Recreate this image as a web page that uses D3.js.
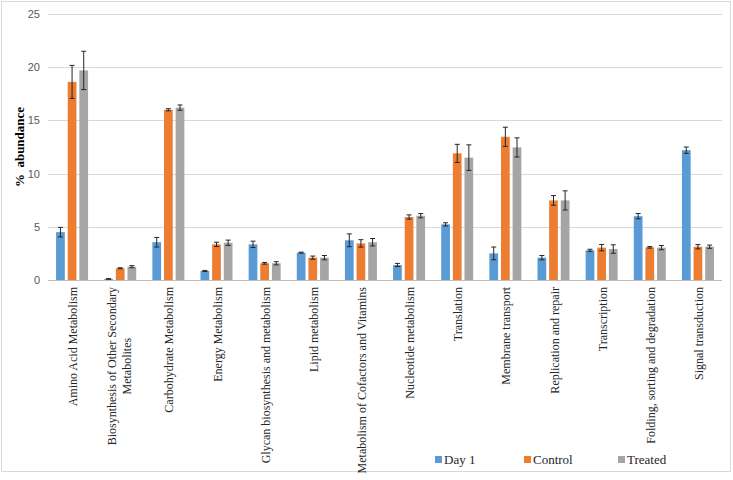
<!DOCTYPE html>
<html>
<head>
<meta charset="utf-8">
<script src="https://cdn.jsdelivr.net/npm/d3@7"></script>
<style>
  body { margin: 0; background: #fff; }
  svg { display: block; }
</style>
</head>
<body>
<svg id="chart" width="733" height="480"></svg>
<script>
// categories and series
const categories = [
  'Amino Acid Metabolism',
  'Biosynthesis of Other Secondary Metabolites',
  'Carbohydrate Metabolism',
  'Energy Metabolism',
  'Glycan biosynthesis and metabolism',
  'Lipid metabolism',
  'Metabolism of Cofactors and Vitamins',
  'Nucleotide metabolism',
  'Translation',
  'Membrane transport',
  'Replication and repair',
  'Transcription',
  'Folding, sorting and degradation',
  'Signal transduction'
];
const seriesNames = ['Day 1', 'Control', 'Treated'];

const day1 = [4.5, 0.1, 3.55, 0.85, 3.35, 2.57, 3.73, 1.41, 5.23, 2.5, 2.1, 2.79, 6.0, 12.2];
const day1Err = [0.45, 0.03, 0.45, 0.05, 0.3, 0.05, 0.6, 0.15, 0.15, 0.6, 0.2, 0.1, 0.25, 0.3];
const control = [18.62, 1.1, 16.0, 3.35, 1.57, 2.1, 3.44, 5.92, 11.9, 13.46, 7.48, 3.04, 3.07, 3.13];
const controlErr = [1.55, 0.05, 0.1, 0.2, 0.08, 0.15, 0.35, 0.2, 0.85, 0.9, 0.45, 0.3, 0.07, 0.2];
const treated = [19.7, 1.25, 16.2, 3.5, 1.57, 2.1, 3.55, 6.04, 11.5, 12.46, 7.48, 2.91, 3.04, 3.13];
const treatedErr = [1.8, 0.1, 0.25, 0.25, 0.15, 0.2, 0.35, 0.2, 1.2, 0.9, 0.9, 0.4, 0.2, 0.15];

const yTicks = [0, 5, 10, 15, 20, 25];
const colors = ['#5b9bd5', '#ed7d31', '#a5a5a5'];

const values = [day1, control, treated];
const errors = [day1Err, controlErr, treatedErr];

const width = 733;
const height = 480;
const margin = { top: 14, right: 11, bottom: 200, left: 48 };

const svg = d3.select('#chart');

// outer frame
svg.append('rect')
  .attr('x', 1.5).attr('y', 1.5)
  .attr('width', width - 4).attr('height', height - 10)
  .attr('fill', 'none')
  .attr('stroke', '#d9d9d9');

const x = d3.scaleBand()
  .domain(categories)
  .range([margin.left, width - margin.right]);

const xInner = d3.scaleBand()
  .domain(seriesNames)
  .range([0, 32])
  .paddingInner(0.25);

const y = d3.scaleLinear()
  .domain([0, 25])
  .range([height - margin.bottom, margin.top]);

// grid
svg.append('g')
  .selectAll('line')
  .data(yTicks.filter(d => d > 0))
  .join('line')
  .attr('x1', margin.left).attr('x2', width - margin.right)
  .attr('y1', d => Math.round(y(d)) + 0.5).attr('y2', d => Math.round(y(d)) + 0.5)
  .attr('stroke', '#d9d9d9');

// y tick labels
svg.append('g')
  .selectAll('text')
  .data(yTicks)
  .join('text')
  .attr('x', 40)
  .attr('y', d => y(d) + 4)
  .attr('text-anchor', 'end')
  .attr('font-family', 'Liberation Sans, Arial, sans-serif')
  .attr('font-size', 11)
  .attr('fill', '#595959')
  .text(d => d);

// y title
svg.append('text')
  .attr('transform', 'translate(24,147) rotate(-90)')
  .attr('text-anchor', 'middle')
  .attr('font-family', 'Liberation Serif, Times New Roman, serif')
  .attr('font-weight', 'bold')
  .attr('font-size', 13)
  .attr('fill', '#000')
  .style('white-space', 'pre')
  .text('%  abundance');

// bars
const groupOffset = (x.bandwidth() - 32) / 2;
const rows = [];
categories.forEach((c, i) => {
  seriesNames.forEach((s, j) => {
    rows.push({ cat: c, series: s, idx: j, value: values[j][i], err: errors[j][i] });
  });
});

const bx = d => x(d.cat) + groupOffset + xInner(d.series);

svg.append('g')
  .selectAll('rect')
  .data(rows)
  .join('rect')
  .attr('x', bx)
  .attr('y', d => y(d.value))
  .attr('width', xInner.bandwidth())
  .attr('height', d => y(0) - y(d.value))
  .attr('fill', d => colors[d.idx]);

// error bars
const eb = svg.append('g')
  .attr('stroke', '#262626')
  .attr('stroke-width', 1);

eb.selectAll('line.v')
  .data(rows)
  .join('line')
  .attr('class', 'v')
  .attr('x1', d => bx(d) + xInner.bandwidth() / 2)
  .attr('x2', d => bx(d) + xInner.bandwidth() / 2)
  .attr('y1', d => y(d.value + d.err))
  .attr('y2', d => y(Math.max(0, d.value - d.err)));

['top', 'bot'].forEach(k => {
  eb.selectAll('line.' + k)
    .data(rows)
    .join('line')
    .attr('class', k)
    .attr('x1', d => bx(d) + xInner.bandwidth() / 2 - 2.5)
    .attr('x2', d => bx(d) + xInner.bandwidth() / 2 + 2.5)
    .attr('y1', d => y(k === 'top' ? d.value + d.err : Math.max(0, d.value - d.err)))
    .attr('y2', d => y(k === 'top' ? d.value + d.err : Math.max(0, d.value - d.err)));
});

// x axis line
svg.append('line')
  .attr('x1', margin.left).attr('x2', width - margin.right)
  .attr('y1', y(0) + 0.5).attr('y2', y(0) + 0.5)
  .attr('stroke', '#bfbfbf');

// category labels (rotated, with wrapping for the long one)
const wrap = {
  'Biosynthesis of Other Secondary Metabolites': ['Biosynthesis of Other Secondary', 'Metabolites']
};

const labels = svg.append('g')
  .attr('font-family', 'Liberation Serif, Times New Roman, serif')
  .attr('font-size', 12)
  .attr('fill', '#262626');

categories.forEach(c => {
  const lines = wrap[c] || [c];
  const cx = x(c) + x.bandwidth() / 2 + 3;
  const t = labels.append('text')
    .attr('transform', `translate(${cx},287) rotate(-90)`)
    .attr('text-anchor', lines.length > 1 ? 'middle' : 'end');
  if (lines.length > 1) {
    // centre the wrapped block on the first line's extent
    t.text(lines[0]);
    const firstW = t.node().getComputedTextLength();
    t.text(null);
    t.attr('transform', `translate(${cx},${287 + firstW / 2}) rotate(-90)`);
    lines.forEach((ln, i) => {
      t.append('tspan')
        .attr('x', 0)
        .attr('dy', i === 0 ? -7 : 15)
        .text(ln);
    });
  } else {
    t.attr('dy', 2).text(c);
  }
});

// legend
const legendX = [435, 524, 618];
const legend = svg.append('g')
  .attr('font-family', 'Liberation Serif, Times New Roman, serif')
  .attr('font-size', 13)
  .attr('fill', '#262626');

seriesNames.forEach((s, i) => {
  legend.append('rect')
    .attr('x', legendX[i]).attr('y', 456)
    .attr('width', 7).attr('height', 7)
    .attr('fill', colors[i]);
  legend.append('text')
    .attr('x', legendX[i] + 9).attr('y', 464)
    .text(s);
});
</script>
</body>
</html>
